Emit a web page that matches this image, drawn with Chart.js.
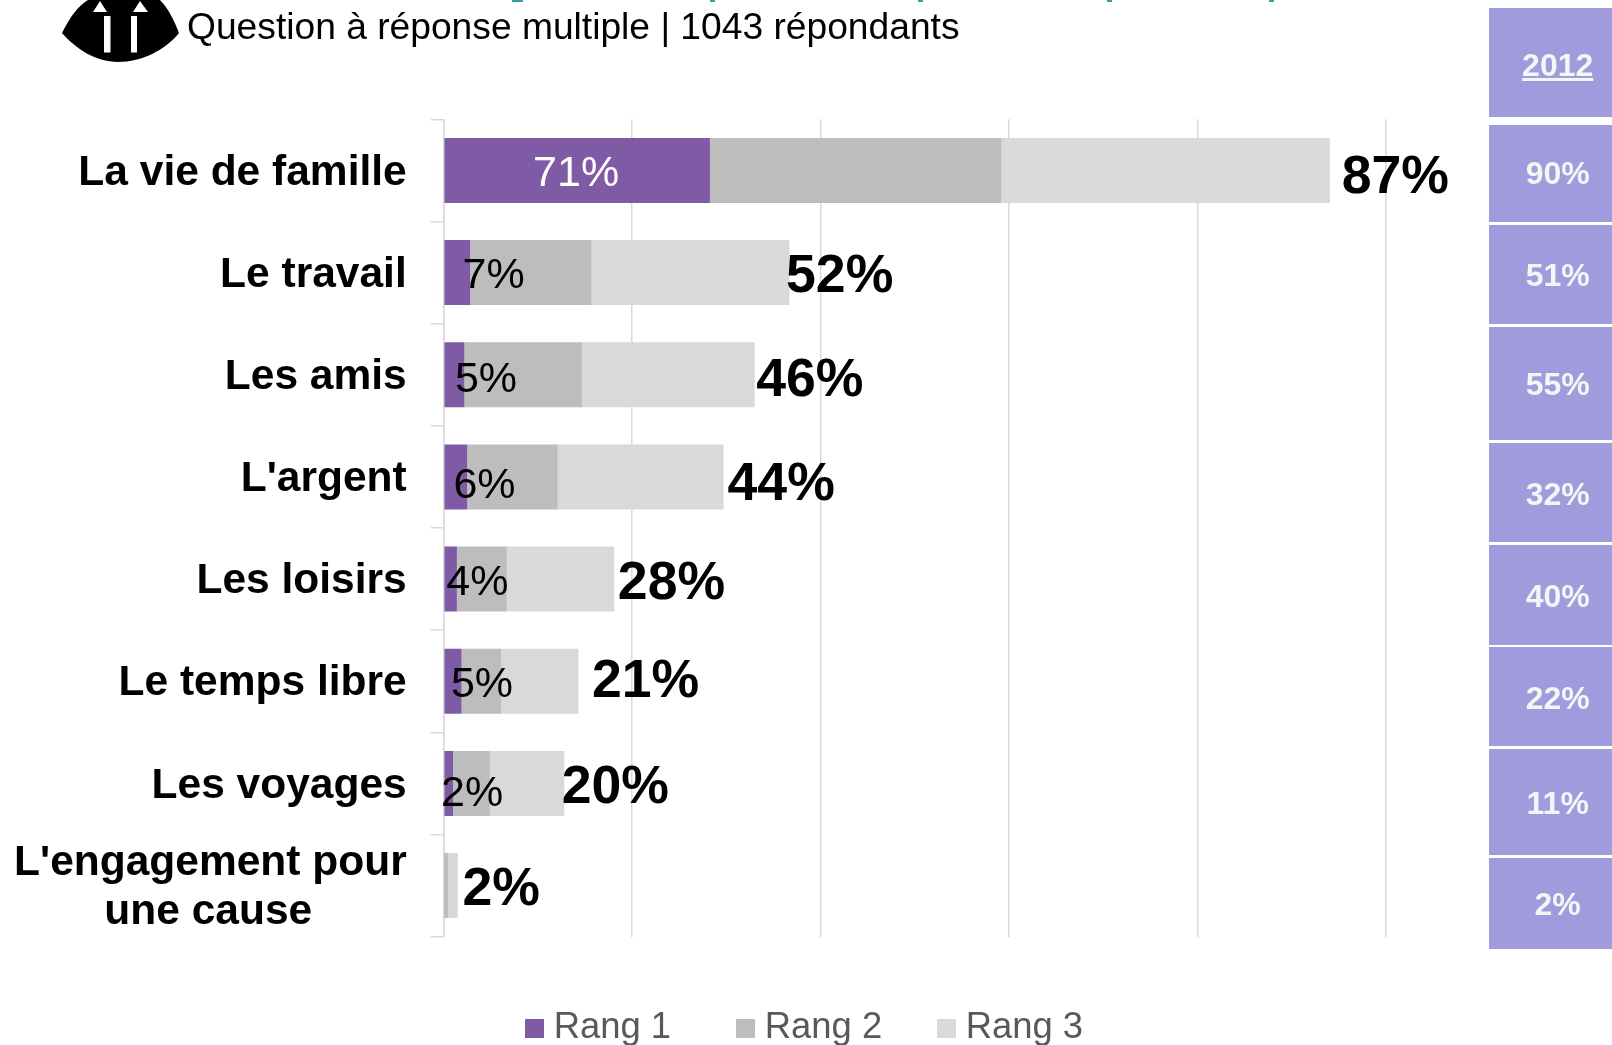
<!DOCTYPE html>
<html lang="fr">
<head>
<meta charset="utf-8">
<title>Question à réponse multiple</title>
<script src="https://cdn.jsdelivr.net/npm/chart.js@4/dist/chart.umd.min.js"></script>
<style>
html,body{margin:0;padding:0;background:#fff;width:1612px;height:1045px;overflow:hidden;font-family:"Liberation Sans",Arial,sans-serif}
#c{position:absolute;left:0;top:0}
#logo{position:absolute;left:0;top:0}
#sub{position:absolute;left:187px;top:5px;font-size:37.2px;line-height:42px;color:#000;white-space:nowrap}
.box{position:absolute;left:1489px;width:137.4px;background:#9f9bdc}
.boxt{position:absolute;left:0;width:100%;text-align:center;font-weight:bold;font-size:32px;line-height:36px;color:#f5f5f5}
.tl{position:absolute;top:0;height:2px;background:#3a9aa5}
</style>
</head>
<body>
<canvas id="c" width="1612" height="1045"></canvas>
<svg id="logo" width="200" height="70" viewBox="0 0 200 70">
<path d="M62,33 C70,17 78,6 88,0 L160,0 C168,8 174,20 179,33 C165,50 142,62 118,62 C95,62 75,48 62,33 Z" fill="#000"/>
<path d="M100,1 L107,12 L93,12 Z M140,1 L148,12 L133,12 Z" fill="#fff"/>
<rect x="104" y="16" width="6.5" height="36.5" fill="#fff"/>
<rect x="131" y="16" width="6" height="36.5" fill="#fff"/>
</svg>
<div id="sub">Question à réponse multiple | 1043 répondants</div>
<div class="tl" style="left:512px;width:11px"></div>
<div class="tl" style="left:710px;width:5px"></div>
<div class="tl" style="left:918px;width:5px"></div>
<div class="tl" style="left:1107px;width:5px"></div>
<div class="tl" style="left:1269px;width:5px"></div>
<div id="boxes"></div>
<script>
const categories = ["La vie de famille","Le travail","Les amis","L'argent","Les loisirs","Le temps libre","Les voyages",["L'engagement pour","une cause"]];
const rang1 = [28.25,2.8,2.2,2.5,1.4,1.9,1.0,0.1];
const rang2 = [30.95,12.9,12.5,9.6,5.3,4.2,3.9,0.4];
const rang3 = [34.85,21.0,18.3,17.6,11.4,8.2,7.9,1.0];
const rang1Labels = ["71%","7%","5%","6%","4%","5%","2%",""];
const totalLabels = ["87%","52%","46%","44%","28%","21%","20%","2%"];
const header2012 = "2012";
const values2012 = ["90%","51%","55%","32%","40%","22%","11%","2%"];

/* label nudges, in pixels, as hand-placed in the reference */
const totalDx = [11.7,-3.5,1.5,4,3.6,13.5,-2.6,4.7];
const totalDy = [8.3,4.3,6,8.3,5.3,1.3,4.3,5];
const innerDx = [-133.8,23.6,21.6,17.2,20.5,20.4,19,0];
const innerDy = [4,4,5.5,9,4,4,11,0];

const boxEdges = [[7.5,117],[125,222],[225,324],[326.5,440],[442.5,542],[544.5,644.5],[647,746],[748.5,855],[857.5,948.5]];
const boxTextCenters = [65,173,275,384,494,596,698,803,904];
const boxTexts = [header2012].concat(values2012);
const host = document.getElementById('boxes');
boxTexts.forEach((t,i)=>{
  const [a,b] = boxEdges[i];
  const d = document.createElement('div');
  d.className='box'; d.style.top=a+'px'; d.style.height=(b-a)+'px';
  const s = document.createElement('div');
  s.className='boxt'; s.style.top=(boxTextCenters[i]-a-18)+'px';
  s.textContent=t; if(i===0) s.style.textDecoration='underline';
  d.appendChild(s); host.appendChild(d);
});

const FONT = '"Liberation Sans", Arial, sans-serif';
const colors = ['#7f5aa5','#bdbdbd','#d9d9d9'];

function swatch(color){
  const cv=document.createElement('canvas'); cv.width=19; cv.height=19;
  const x=cv.getContext('2d'); x.fillStyle=color; x.fillRect(0,0,19,19);
  return cv;
}

const labelsPlugin = {
  id:'rowLabels',
  beforeDraw(chart){
    const y = chart.scales.y;
    if(!y._nudged){
      y.getLabelItems(chart.chartArea).forEach(it=>{ it.textOffset += 2.5; });
      y._nudged = true;
    }
  },
  afterDatasetsDraw(chart){
    const {ctx,scales:{x,y}} = chart;
    ctx.save();
    ctx.textBaseline='middle';
    categories.forEach((_,i)=>{
      const cy = y.getPixelForValue(i);
      const end1 = x.getPixelForValue(rang1[i]);
      const endAll = x.getPixelForValue(rang1[i]+rang2[i]+rang3[i]);
      if(rang1Labels[i]){
        ctx.font='43px '+FONT; ctx.textAlign='center';
        ctx.fillStyle = i===0 ? '#ffffff' : '#000000';
        ctx.fillText(rang1Labels[i], end1+innerDx[i], cy+innerDy[i]);
      }
      ctx.font='bold 53.6px '+FONT; ctx.textAlign='left'; ctx.fillStyle='#000';
      ctx.fillText(totalLabels[i], endAll+totalDx[i], cy+totalDy[i]);
    });
    ctx.restore();
  }
};

const legendFit = {
  id:'legendFit',
  beforeLayout(chart){
    const lg = chart.legend;
    if(lg && !lg._wrapped){
      const f = lg.fit;
      lg.fit = function(){ f.call(this); this.height = 108.3; };
      lg._wrapped = true;
    }
  },
  afterLayout(chart){
    const lg = chart.legend;
    if(lg){ lg.top += 11; lg.left += 114.8; lg.right += 114.8; }
  }
};

new Chart(document.getElementById('c'),{
  type:'bar',
  data:{
    labels:categories,
    datasets:[
      {label:'Rang 1',data:rang1,backgroundColor:colors[0]},
      {label:'Rang 2',data:rang2,backgroundColor:colors[1]},
      {label:'Rang 3',data:rang3,backgroundColor:colors[2]}
    ]
  },
  options:{
    indexAxis:'y',
    responsive:false,
    animation:false,
    events:[],
    barPercentage:0.636,
    categoryPercentage:1,
    layout:{padding:{left:0,right:226,top:119.3,bottom:0}},
    scales:{
      x:{
        stacked:true,min:0,max:100,
        ticks:{display:false,stepSize:20},
        grid:{color:'#d9d9d9',lineWidth:1.5,drawTicks:false},
        border:{display:false}
      },
      y:{
        stacked:true,
        afterFit(s){ s.width = 443.7; },
        ticks:{
          color:'#000',padding:24,autoSkip:false,
          font:{family:FONT,size:42.5,weight:'bold',lineHeight:1.15},
          callback(v){
            const l = categories[v];
            return Array.isArray(l) ? [l[0], l[1]+'\u00a0'.repeat(8)] : l;
          }
        },
        grid:{color:'#d9d9d9',lineWidth:1.5,drawOnChartArea:false,tickLength:13},
        border:{display:true,color:'#d9d9d9',width:1.5}
      }
    },
    plugins:{
      tooltip:{enabled:false},
      title:{display:false},
      legend:{
        position:'bottom',
        labels:{
          usePointStyle:true,pointStyleWidth:3,boxHeight:19,padding:62.4,color:'#595959',
          font:{family:FONT,size:36.4},
          generateLabels(chart){
            return chart.data.datasets.map((d,i)=>({
              text:i===0 ? d.label+'\u00a0' : d.label,
              fillStyle:d.backgroundColor,strokeStyle:d.backgroundColor,fontColor:'#595959',
              lineWidth:0,pointStyle:swatch(d.backgroundColor),datasetIndex:i,hidden:false
            }));
          }
        }
      }
    }
  },
  plugins:[labelsPlugin,legendFit]
});
</script>
</body>
</html>
